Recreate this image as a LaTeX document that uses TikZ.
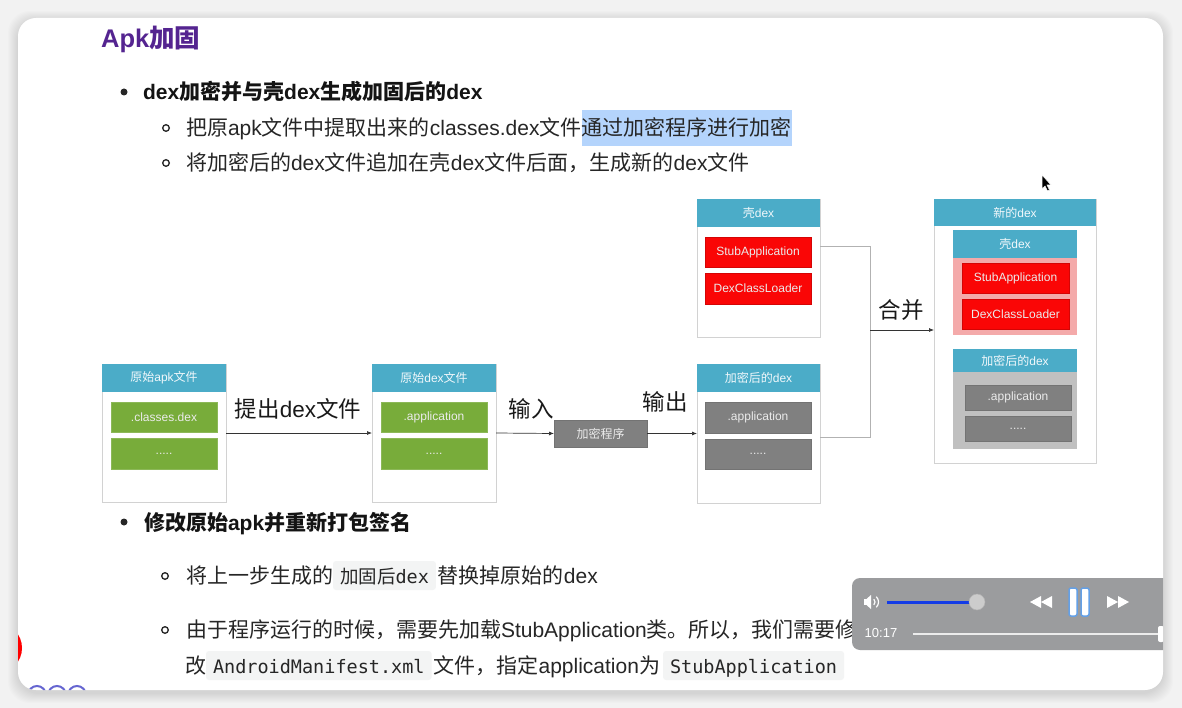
\documentclass[tikz,border=0pt]{standalone}
\usepackage{fontspec}
\setmainfont{Noto Sans CJK SC}
\newfontfamily\cjk{Noto Sans CJK SC}
\newfontfamily\lat{Liberation Sans}
\newfontfamily\mono{DejaVu Sans Mono}
\usetikzlibrary{arrows.meta}
\newcommand\fsz[1]{\fontsize{#1}{#1}\selectfont}
\definecolor{hdrc}{RGB}{75,172,200}
\definecolor{grn}{RGB}{120,172,58}
\definecolor{rd}{RGB}{250,6,6}
\definecolor{gryc}{RGB}{128,128,128}
\definecolor{pinkc}{RGB}{244,170,170}
\definecolor{lgry}{RGB}{192,192,192}
\definecolor{bordr}{RGB}{210,210,210}
\definecolor{ttl}{RGB}{84,36,144}
\definecolor{hlc}{RGB}{180,212,252}
\definecolor{codebg}{RGB}{243,244,244}
\definecolor{txtc}{RGB}{38,38,38}
\definecolor{ovl}{RGB}{155,156,158}
\definecolor{bgc}{RGB}{242,242,242}
\begin{document}
\begin{tikzpicture}[x=1pt,y=-1pt,
  frame/.style={draw=bordr, fill=white, line width=0.8pt, inner sep=0, outer sep=0, anchor=north west},
  hdrbox/.style={fill=hdrc, inner sep=0, outer sep=0, anchor=north west, text=white!92!hdrc, font=\fsz{12}},
  itm/.style={inner sep=0, outer sep=0, anchor=north west, font=\fsz{12}\lat, text=white!92!black},
  gitm/.style={itm, fill=grn, draw=grn!85!white},
  ritm/.style={itm, fill=rd, draw=rd!85!black},
  yitm/.style={itm, fill=gryc, draw=gryc!90!black},
  lbl/.style={inner sep=0, font=\fsz{22.5}, text=black!90},
  conn/.style={draw=black!80, line width=0.7pt, -{Latex[length=5pt,width=4pt]}},
  merge/.style={draw=black!30, line width=0.8pt},
  body/.style={inner sep=0, outer sep=0, anchor=base west, font=\fsz{21}, text=txtc},
  bodyb/.style={body, font=\fsz{21}\bfseries, text=black!92},
  code/.style={inner xsep=7pt, inner ysep=0, outer sep=0, anchor=base west, fill=codebg, rounded corners=3pt, text height=22pt, text depth=7pt, font=\fsz{18.5}\mono, text=txtc},
  bul/.style={fill=black!85},
  sbul/.style={draw=black!85, line width=1.3pt}
]
\useasboundingbox (0,0) rectangle (1182,708);
\fill[bgc] (0,0) rectangle (1182,708);
\foreach \i in {1,...,10} {
  \fill[black, opacity=0.012, rounded corners=22pt] (18-\i,18-\i+3) rectangle (1163+\i,690+\i+3);
}
\fill[white, rounded corners=18pt] (18,18) rectangle (1163,690);

% title
\node[inner sep=0, anchor=base west, font=\fsz{25.5}\bfseries, text=ttl] (title) at (101,47.5) {{\lat Apk}加固};

% bullet list top
\fill[bul] (124,92) circle (3.5);
\node[bodyb] (b1) at (143,100) {{\lat dex}加密并与壳{\lat dex}生成加固后的{\lat dex}};
\draw[sbul] (166,128) circle (3.3);
\node[body] (s1a) at (186,136) {把原{\lat apk}文件中提取出来的{\lat classes.dex}文件};
\node[body, fill=hlc, text height=26pt, text depth=10pt] (s1b) at (s1a.base east) {通过加密程序进行加密};
\draw[sbul] (166,163) circle (3.3);
\node[body] (s2) at (186,171) {将加密后的{\lat dex}文件追加在壳{\lat dex}文件后面，生成新的{\lat dex}文件};

% ---------- diagram ----------
% 原始apk文件
\node[frame, minimum width=124, minimum height=138] (apk) at (102,364) {};
\node[hdrbox, minimum width=124, minimum height=28] (apkh) at (102,364) {原始{\lat apk}文件};
\node[gitm, minimum width=106, minimum height=30] (apk1) at (111,402) {.classes.dex};
\node[gitm, minimum width=106, minimum height=31] (apk2) at (111,438) {.....};
% 原始dex文件
\node[frame, minimum width=124, minimum height=138] (odex) at (372,364) {};
\node[hdrbox, minimum width=124, minimum height=28] (odexh) at (372,364) {原始{\lat dex}文件};
\node[gitm, minimum width=106, minimum height=30] (odex1) at (381,402) {.application};
\node[gitm, minimum width=106, minimum height=31] (odex2) at (381,438) {.....};
% 加密程序
\node[inner sep=0, outer sep=0, anchor=north west, fill=gryc, draw=gryc!90!black, minimum width=93, minimum height=27, font=\fsz{12}, text=white!92!black] (enc) at (554,420) {加密程序};
% 壳dex
\node[frame, minimum width=123, minimum height=138] (shell) at (697,199) {};
\node[hdrbox, minimum width=123, minimum height=28] (shellh) at (697,199) {壳{\lat dex}};
\node[ritm, minimum width=106, minimum height=30] (shell1) at (705,237) {StubApplication};
\node[ritm, minimum width=106, minimum height=31] (shell2) at (705,273) {DexClassLoader};
% 加密后的dex
\node[frame, minimum width=123, minimum height=139] (encd) at (697,364) {};
\node[hdrbox, minimum width=123, minimum height=28] (encdh) at (697,364) {加密后的{\lat dex}};
\node[yitm, minimum width=106, minimum height=31] (encd1) at (705,402) {.application};
\node[yitm, minimum width=106, minimum height=30] (encd2) at (705,439) {.....};
% 新的dex
\node[frame, minimum width=162, minimum height=264] (newd) at (934,199) {};
\node[hdrbox, minimum width=162, minimum height=27] (newdh) at (934,199) {新的{\lat dex}};
\node[inner sep=0, outer sep=0, anchor=north west, fill=pinkc, minimum width=124, minimum height=105] (nshell) at (953,230) {};
\node[hdrbox, minimum width=124, minimum height=28] (nshellh) at (953,230) {壳{\lat dex}};
\node[ritm, minimum width=107, minimum height=30] (nshell1) at (962,263) {StubApplication};
\node[ritm, minimum width=107, minimum height=30] (nshell2) at (962,299) {DexClassLoader};
\node[inner sep=0, outer sep=0, anchor=north west, fill=lgry, minimum width=124, minimum height=100] (nencd) at (953,349) {};
\node[hdrbox, minimum width=124, minimum height=23] (nencdh) at (953,349) {加密后的{\lat dex}};
\node[yitm, minimum width=106, minimum height=25] (nencd1) at (965,385) {.application};
\node[yitm, minimum width=106, minimum height=25] (nencd2) at (965,416) {.....};

% connectors
\draw[conn] (apk.east) -- (odex.west);
\draw[conn] (odex.east) -- (enc.west);
\draw[conn] (enc.east) -- (encd.west);
\coordinate (sr) at ([yshift=-47pt]shell.north east);
\coordinate (er) at ([yshift=-73pt]encd.north east);
\coordinate (jt) at (870,246);
\coordinate (jb) at (870,437);
\coordinate (jn) at (870,330);
\draw[merge] (sr) -- (jt) -- (jb) -- (er);
\draw[conn] (jn) -- (jn -| newd.west);
\node[lbl] (l1) at (298,409) {提出{\lat dex}文件};
\node[lbl] (l2) at (531,409) {输入};
\node[lbl] (l3) at (665,402) {输出};
\node[lbl] (l4) at (901,310) {合并};

% bullet list bottom
\fill[bul] (124,522) circle (3.5);
\node[bodyb] (b2) at (144,530) {修改原始{\lat apk}并重新打包签名};
\draw[sbul] (165,576) circle (3.3);
\node[body] (t1a) at (186,583) {将上一步生成的};
\node[code] (t1b) at (t1a.base east) {{\cjk\fsz{18.5}加固后}dex};
\node[body] (t1c) at ([xshift=2pt]t1b.base east) {替换掉原始的{\lat dex}};
\draw[sbul] (165,630) circle (3.3);
\node[body] (t2) at (186,637) {由于程序运行的时候，需要先加载{\lat StubApplication}类。所以，我们需要修};
\node[body] (t3a) at (185,673) {改};
\node[code] (t3b) at (t3a.base east) {AndroidManifest.xml};
\node[body] (t3c) at ([xshift=2pt]t3b.base east) {文件，指定{\lat application}为};
\node[code] (t3d) at ([xshift=3pt]t3c.base east) {StubApplication};

% cursor
\filldraw[fill=black, draw=white, line width=0.5pt] (1042,175) -- (1042,189) -- (1045,186) -- (1047.5,191) -- (1049.5,190) -- (1047,185) -- (1051,185) -- cycle;

% overlay & artefacts clipped to window
\begin{scope}
\clip[rounded corners=18pt] (18,18) rectangle (1163,690);
\draw[red, line width=4pt] (-3,648) circle (23);
\foreach \cx in {37,57,77} { \draw[black!30!blue!60!white, line width=2pt] (\cx,695) circle (9); }
\fill[ovl, rounded corners=8pt] (852,578) rectangle (1175,650);
% speaker
\fill[white] (864,599) rectangle (867,605);
\fill[white] (866.5,599) -- (871,595) -- (871,609) -- (866.5,605) -- cycle;
\draw[white, line width=1.2pt] ([shift={(-45:4)}]871,602) arc (-45:45:4);
\draw[white, line width=1.2pt] ([shift={(-45:7.5)}]871,602) arc (-45:45:7.5);
\draw[line width=3pt, draw={rgb,255:red,20;green,60;blue,230}] (887,602) -- (970,602);
\filldraw[fill=black!20, draw=black!30, line width=0.5pt] (977,602) circle (8);
% rewind / pause / ff
\fill[white] (1030,602) -- (1041,596) -- (1041,608) -- cycle;
\fill[white] (1041,602) -- (1052,596) -- (1052,608) -- cycle;
\filldraw[fill=white, draw={rgb,255:red,100;green,160;blue,230}, line width=1.5pt, rounded corners=2pt] (1069,588) rectangle (1077,616);
\filldraw[fill=white, draw={rgb,255:red,100;green,160;blue,230}, line width=1.5pt, rounded corners=2pt] (1081,588) rectangle (1089,616);
\fill[white] (1107,596) -- (1118,602) -- (1107,608) -- cycle;
\fill[white] (1118,596) -- (1129,602) -- (1118,608) -- cycle;
\node[inner sep=0, font=\fsz{13}\lat, text=white] (time) at (881,633) {10:17};
\draw[white!85!gray, line width=2pt] (913,634) -- (1160,634);
\fill[white, rounded corners=2pt] (1158,626) rectangle (1164,642);
\end{scope}
\end{tikzpicture}
\end{document}
